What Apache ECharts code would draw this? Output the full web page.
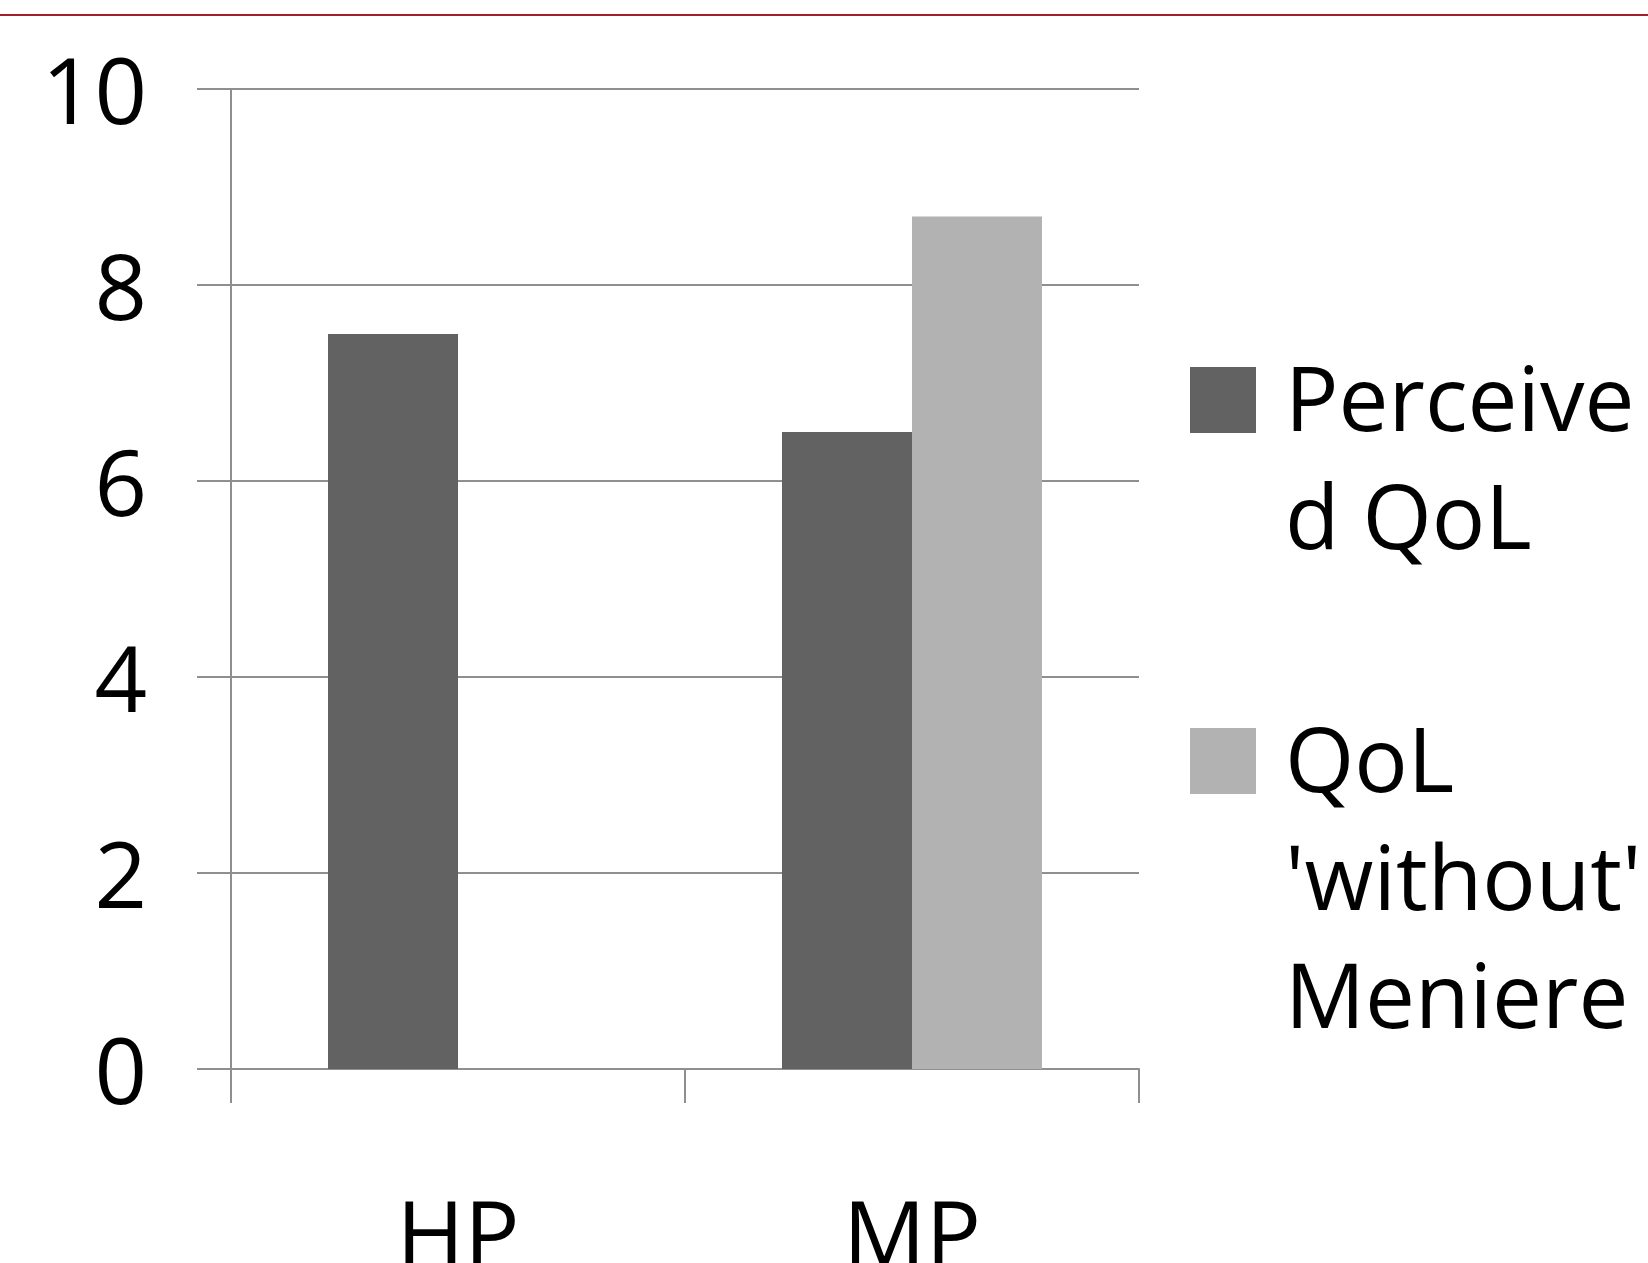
<!DOCTYPE html>
<html>
<head>
<meta charset="utf-8">
<script src="https://cdn.jsdelivr.net/npm/echarts@6/dist/echarts.min.js"></script>
<style>
  html, body { margin: 0; padding: 0; background: #fff; }
  #chart { width: 1648px; height: 1263px; }
</style>
</head>
<body>
<div id="chart"></div>
<script>
// Groups and scores
const categories = ['HP', 'MP'];
const perceivedQoL = [7.5, 6.5];
const qolWithoutMeniere = ['-', 8.7];
const yTicks = [0, 2, 4, 6, 8, 10];

const seriesNames = ['Perceived QoL', "QoL 'without' Meniere"];
// Legend text as it wraps beside the swatches
const legendLines = [['Perceive', 'd QoL'], ['QoL', "'without'", 'Meniere']];

const FONT = '"Open Sans", "Noto Sans", sans-serif';
const AXIS_GRAY = '#8f8f8f';
const LEGEND_LH = 118;
const LEGEND_FS = 89;
const SWATCH = 66;
const TEXT_DROP = 12;   // first text line sits a little below the swatch centre

// One legend per series; spacer lines ahead of the text keep the
// swatch level with the first line of a wrapped label.
function legendFor(idx, swatchCenterY) {
  const lines = legendLines[idx];
  const pad = lines.length - 1;
  const gapLH = LEGEND_LH + TEXT_DROP / pad;
  const blockH = pad * gapLH + lines.length * LEGEND_LH;
  const body = [];
  for (let i = 0; i < pad; i++) body.push('{gap| }');
  lines.forEach(l => body.push('{t|' + l + '}'));
  return {
    show: true,
    left: 1190,
    top: swatchCenterY - blockH / 2,
    padding: 0,
    orient: 'vertical',
    data: [seriesNames[idx]],
    icon: 'rect',
    itemWidth: SWATCH,
    itemHeight: SWATCH,
    selectedMode: false,
    formatter: () => body.join('\n'),
    textStyle: {
      fontFamily: FONT,
      fontSize: LEGEND_FS,
      lineHeight: LEGEND_LH,
      color: '#000',
      padding: [0, 0, 0, 24],
      rich: {
        gap: { fontFamily: FONT, fontSize: 10, lineHeight: gapLH },
        t: { fontFamily: FONT, fontSize: LEGEND_FS, lineHeight: LEGEND_LH, color: '#000' }
      }
    }
  };
}

const chart = echarts.init(document.getElementById('chart'), null, { renderer: 'canvas' });

chart.setOption({
  animation: false,
  backgroundColor: '#fff',
  graphic: [{
    type: 'rect',
    left: 0,
    top: 14,
    shape: { width: 1648, height: 2 },
    style: { fill: '#a31f2b' }
  }],
  grid: { left: 231, right: 509, top: 89, bottom: 194, outerBoundsMode: 'none', containLabel: false },
  legend: [
    legendFor(0, 400),
    legendFor(1, 761)
  ],
  xAxis: {
    type: 'category',
    data: categories,
    boundaryGap: true,
    axisLine: { show: true, lineStyle: { color: AXIS_GRAY, width: 2 } },
    axisTick: { show: true, length: 34, alignWithLabel: false, lineStyle: { color: AXIS_GRAY, width: 2 } },
    axisLabel: { fontFamily: FONT, fontSize: 92, color: '#000', margin: 126 }
  },
  yAxis: {
    type: 'value',
    min: 0,
    max: 10,
    interval: 2,
    axisLine: { show: true, lineStyle: { color: AXIS_GRAY, width: 2 } },
    axisTick: { show: true, length: 34, lineStyle: { color: AXIS_GRAY, width: 2 } },
    splitLine: { show: true, lineStyle: { color: AXIS_GRAY, width: 2 } },
    axisLabel: {
      fontFamily: FONT, fontSize: 92, color: '#000', margin: 84,
      verticalAlign: 'top',
      lineHeight: 18,
      formatter: v => (yTicks.includes(v) ? String(v) : '')
    }
  },
  series: [
    {
      name: seriesNames[0],
      type: 'bar',
      data: perceivedQoL,
      barWidth: 130,
      barGap: '0%',
      itemStyle: { color: '#626262' }
    },
    {
      name: seriesNames[1],
      type: 'bar',
      data: qolWithoutMeniere,
      barWidth: 130,
      barGap: '0%',
      itemStyle: { color: '#b2b2b2' }
    }
  ]
});
</script>
</body>
</html>
